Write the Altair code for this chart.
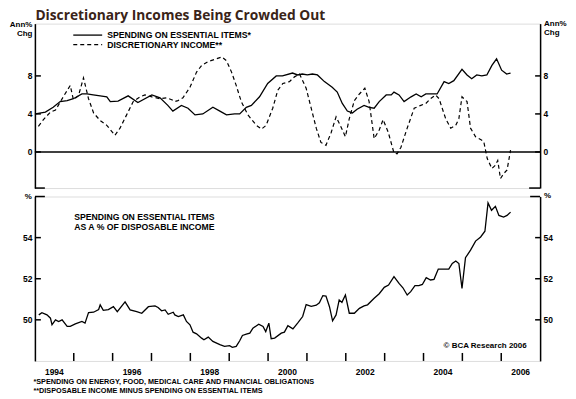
import altair as alt
import pandas as pd

# ---------------- data ----------------
chart_title = "Discretionary Incomes Being Crowded Out"
legend_labels = ["SPENDING ON ESSENTIAL ITEMS*", "DISCRETIONARY INCOME**"]
panel_note = ["SPENDING ON ESSENTIAL ITEMS", "AS A % OF DISPOSABLE INCOME"]
footnotes = ["*SPENDING ON ENERGY, FOOD, MEDICAL CARE AND FINANCIAL OBLIGATIONS",
             "**DISPOSABLE INCOME MINUS SPENDING ON ESSENTIAL ITEMS"]
source_note = "\u00a9 BCA Research 2006"

# Spending on essential items, annual % change (decimal year, value)
spend_t = [
    1994.01, 1994.27, 1994.47, 1994.65, 1994.83, 1994.99, 1995.21, 1995.34, 1995.50, 1995.68,
    1995.85, 1995.94, 1996.14, 1996.40, 1996.65, 1997.01, 1997.22, 1997.42, 1997.55, 1997.77,
    1997.94, 1998.12, 1998.32, 1998.58, 1998.76, 1998.93, 1999.14, 1999.27, 1999.44, 1999.57,
    1999.78, 1999.99, 2000.21, 2000.37, 2000.63, 2000.76, 2000.88, 2001.01, 2001.14, 2001.27,
    2001.45, 2001.65, 2001.78, 2001.91, 2002.04, 2002.17, 2002.29, 2002.47, 2002.60, 2002.73,
    2002.86, 2003.04, 2003.17, 2003.24, 2003.37, 2003.50, 2003.68, 2003.81, 2003.94, 2004.06,
    2004.35, 2004.53, 2004.65, 2004.78, 2004.99, 2005.12, 2005.24, 2005.37, 2005.50, 2005.63,
    2005.76, 2005.88, 2006.01, 2006.14, 2006.24,
]
spend_chg = [
    4.0, 4.2, 4.7, 5.3, 5.4, 5.6, 6.1, 6.1, 6.0, 5.9,
    5.8, 5.3, 5.35, 5.9, 5.2, 6.0, 5.7, 4.9, 4.3, 4.9,
    4.6, 3.9, 4.0, 4.7, 4.3, 3.9, 4.0, 4.0, 4.7, 4.9,
    5.8, 7.2, 8.0, 8.0, 8.3, 8.1, 8.2, 8.1, 8.2, 8.1,
    7.4, 6.8, 6.3, 5.1, 4.3, 4.1, 4.5, 4.9, 4.7, 4.6,
    5.3, 6.0, 6.0, 6.3, 6.0, 5.3, 5.8, 6.1, 5.8, 6.1,
    6.1, 7.4, 7.2, 7.5, 8.7, 8.1, 7.7, 8.1, 8.0, 8.1,
    9.1, 9.8, 8.6, 8.2, 8.3,
]

# Discretionary income, annual % change
disc_t = [
    1994.09, 1994.22, 1994.40, 1994.53, 1994.73, 1994.91, 1994.99, 1995.12, 1995.25, 1995.38,
    1995.51, 1995.68, 1995.85, 1996.06, 1996.19, 1996.36, 1996.53, 1996.71, 1996.83, 1997.01,
    1997.22, 1997.39, 1997.52, 1997.60, 1997.68, 1997.81, 1997.99, 1998.16, 1998.29, 1998.45,
    1998.67, 1998.81, 1998.93, 1999.06, 1999.18, 1999.31, 1999.48, 1999.70, 1999.83, 1999.95,
    2000.12, 2000.25, 2000.38, 2000.55, 2000.68, 2000.81, 2000.98, 2001.11, 2001.24, 2001.36,
    2001.49, 2001.62, 2001.75, 2001.88, 2001.99, 2002.09, 2002.22, 2002.35, 2002.49, 2002.60,
    2002.73, 2002.86, 2002.96, 2003.09, 2003.24, 2003.32, 2003.42, 2003.58, 2003.76, 2003.93,
    2004.06, 2004.18, 2004.31, 2004.40, 2004.57, 2004.70, 2004.83, 2004.91, 2004.99, 2005.12,
    2005.21, 2005.34, 2005.47, 2005.55, 2005.64, 2005.76, 2005.85, 2005.91, 2005.98, 2006.06,
    2006.15, 2006.24,
]
disc_chg = [
    2.7, 3.4, 4.2, 4.4, 5.8, 7.0, 5.5, 5.9, 7.8, 5.6,
    4.1, 3.3, 2.8, 1.75, 2.5, 3.9, 5.3, 5.8, 6.0, 5.8,
    5.6, 5.7, 5.5, 5.3, 5.4, 5.7, 6.8, 8.4, 9.1, 9.5,
    9.8, 10.0, 9.6, 8.4, 7.0, 5.3, 3.9, 2.8, 2.4, 2.8,
    4.6, 6.5, 7.2, 7.4, 7.9, 8.2, 6.7, 4.6, 2.5, 1.0,
    0.7, 2.0, 3.7, 2.6, 1.6, 3.5, 5.4, 6.1, 6.7, 5.3,
    1.4, 2.3, 3.4, 2.1, -0.1, -0.2, 0.5, 2.5, 4.6, 4.9,
    5.1, 5.6, 6.0, 5.6, 3.5, 2.5, 2.8, 3.5, 5.8, 5.3,
    2.5, 1.6, 1.3, 1.1, -0.7, -1.75, -1.4, -0.9, -2.8, -2.3,
    -1.9, 0.2,
]

# Spending on essential items as % of disposable income
share_t = [
    1994.10, 1994.18, 1994.31, 1994.40, 1994.44, 1994.53, 1994.61, 1994.70, 1994.83, 1994.91,
    1995.04, 1995.21, 1995.29, 1995.38, 1995.51, 1995.64, 1995.68, 1995.76, 1995.89, 1996.02,
    1996.12, 1996.32, 1996.45, 1996.62, 1996.75, 1996.92, 1997.09, 1997.17, 1997.26, 1997.35,
    1997.43, 1997.56, 1997.60, 1997.69, 1997.82, 1997.90, 1997.99, 1998.07, 1998.16, 1998.29,
    1998.35, 1998.46, 1998.58, 1998.76, 1998.88, 1999.01, 1999.08, 1999.18, 1999.27, 1999.34,
    1999.44, 1999.53, 1999.61, 1999.76, 1999.87, 1999.94, 2000.02, 2000.08, 2000.17, 2000.34,
    2000.42, 2000.51, 2000.64, 2000.76, 2000.89, 2000.98, 2001.11, 2001.24, 2001.32, 2001.41,
    2001.49, 2001.58, 2001.66, 2001.75, 2001.83, 2001.90, 2001.99, 2002.09, 2002.22, 2002.35,
    2002.47, 2002.56, 2002.73, 2002.86, 2002.99, 2003.10, 2003.24, 2003.37, 2003.47, 2003.58,
    2003.67, 2003.78, 2003.88, 2003.97, 2004.07, 2004.18, 2004.27, 2004.38, 2004.65, 2004.74,
    2004.83, 2004.91, 2004.99, 2005.08, 2005.21, 2005.34, 2005.47, 2005.58, 2005.66, 2005.75,
    2005.85, 2005.94, 2006.06, 2006.15, 2006.24,
]
share_pct = [
    50.24, 50.35, 50.24, 50.08, 49.76, 50.00, 49.92, 50.00, 49.68, 49.68,
    49.80, 49.92, 49.84, 50.35, 50.37, 50.50, 50.73, 50.46, 50.50, 50.64,
    50.40, 50.87, 50.48, 50.40, 50.32, 50.64, 50.68, 50.60, 50.44, 50.48,
    50.27, 50.37, 50.24, 50.16, 50.24, 49.92, 49.76, 49.40, 49.32, 49.11,
    49.03, 49.16, 48.95, 48.79, 48.71, 48.74, 48.66, 48.71, 48.98, 49.24,
    49.30, 49.35, 49.59, 49.79, 49.68, 49.43, 49.84, 49.08, 49.11, 49.35,
    49.40, 49.72, 49.56, 49.84, 50.16, 50.74, 50.66, 50.71, 50.83, 51.18,
    51.16, 50.64, 49.95, 50.24, 50.97, 50.85, 51.21, 50.32, 50.32, 50.56,
    50.68, 50.73, 51.05, 51.27, 51.58, 51.69, 52.10, 51.77, 51.56, 51.21,
    51.37, 51.66, 51.66, 51.72, 52.05, 51.94, 51.97, 52.47, 52.47, 52.74,
    52.86, 52.74, 51.53, 53.02, 53.39, 53.83, 54.03, 54.31, 55.69, 55.33,
    55.52, 55.08, 55.00, 55.08, 55.24,
]

year_ticks = list(range(1995, 2007))
label_years = [1994, 1996, 1998, 2000, 2002, 2004, 2006]
top_ticks = [0, 4, 8]
bottom_ticks = [50, 52, 54]
zero_line = [0]

# ---------------- layout / style ----------------
W = 507
H_TOP = 165
H_BOT = 165
FONT = "Liberation Sans"
TITLE_FONT = "Open Sans"
INK = "black"

x_scale = alt.Scale(domain=[1994, 2007], nice=False, zero=False)
y_top_scale = alt.Scale(domain=[-3.8, 13.5], nice=False, zero=False)
y_bot_scale = alt.Scale(domain=[48, 56], nice=False, zero=False)


def y_axis(orient, values):
    kw = dict(orient=orient, values=values, ticks=False, domain=True,
              domainColor=INK, domainWidth=1.5, labelFont=FONT, labelFontSize=8.5,
              labelFontWeight="bold", labelColor=INK, labelPadding=3,
              grid=False, title=None)
    if orient == "left":
        kw["minExtent"] = 26.5
        kw["maxExtent"] = 26.5
    return alt.Axis(**kw)


def frame_axis(orient):
    return alt.Axis(orient=orient, labels=False, ticks=False, domain=True,
                    domainColor=INK, domainWidth=1.5, grid=False, title=None)


spend_df = pd.DataFrame({"t": spend_t, "v": spend_chg})
disc_df = pd.DataFrame({"t": disc_t, "v": disc_chg})
share_df = pd.DataFrame({"t": share_t, "v": share_pct})
top_tick_df = pd.DataFrame({"v": top_ticks})
bot_tick_df = pd.DataFrame({"v": bottom_ticks})
year_tick_df = pd.DataFrame({"t": year_ticks})
year_label_df = pd.DataFrame({"year": label_years})
zero_df = pd.DataFrame({"v": zero_line})

small = dict(font=FONT, fontSize=8, fontWeight="bold", color=INK)
note_style = dict(font=FONT, fontSize=8.7, fontWeight="bold", color=INK)

# ---------------- top panel ----------------
t_zero = alt.Chart(zero_df).mark_rule(color=INK, strokeWidth=1.5).encode(
    y=alt.Y("v:Q", scale=y_top_scale, axis=None))
t_ticks_l = alt.Chart(top_tick_df).mark_rule(color=INK, strokeWidth=1.5).encode(
    y=alt.Y("v:Q", scale=y_top_scale, axis=None), x=alt.value(0), x2=alt.value(6))
t_ticks_r = alt.Chart(top_tick_df).mark_rule(color=INK, strokeWidth=1.5).encode(
    y=alt.Y("v:Q", scale=y_top_scale, axis=y_axis("right", top_ticks)),
    x=alt.value(W - 5), x2=alt.value(W))
t_cap_l = alt.Chart(zero_df).mark_rule(color=INK, strokeWidth=1.5).encode(
    x=alt.value(0), x2=alt.value(10), y=alt.value(H_TOP))
t_cap_r = alt.Chart(zero_df).mark_rule(color=INK, strokeWidth=1.5).encode(
    x=alt.value(W - 11), x2=alt.value(W), y=alt.value(H_TOP))
t_solid = alt.Chart(spend_df).mark_line(color=INK, strokeWidth=1.3).encode(
    x=alt.X("t:Q", scale=x_scale, axis=frame_axis("top")),
    y=alt.Y("v:Q", scale=y_top_scale, axis=y_axis("left", top_ticks)))
t_dash = alt.Chart(disc_df).mark_line(color=INK, strokeWidth=1.2, strokeDash=[4, 3]).encode(
    x=alt.X("t:Q", scale=x_scale, axis=None),
    y=alt.Y("v:Q", scale=y_top_scale, axis=None))
leg_solid = alt.Chart(zero_df).mark_rule(color=INK, strokeWidth=1.3).encode(
    x=alt.value(38.5), x2=alt.value(67.5), y=alt.value(11.5))
leg_dash = alt.Chart(zero_df).mark_rule(color=INK, strokeWidth=1.2, strokeDash=[4, 3]).encode(
    x=alt.value(38.5), x2=alt.value(67.5), y=alt.value(21))
leg_text1 = alt.Chart(zero_df).mark_text(align="left", baseline="middle", **note_style).encode(
    x=alt.value(72.5), y=alt.value(11.5), text=alt.value(legend_labels[0]))
leg_text2 = alt.Chart(zero_df).mark_text(align="left", baseline="middle", **note_style).encode(
    x=alt.value(72.5), y=alt.value(21), text=alt.value(legend_labels[1]))
unit_l = alt.Chart(zero_df).mark_text(align="right", baseline="top", lineHeight=9, **small).encode(
    x=alt.value(-2.5), y=alt.value(-2.5), text=alt.value(["Ann%", "Chg"]))
unit_r = alt.Chart(zero_df).mark_text(align="left", baseline="top", lineHeight=9, **small).encode(
    x=alt.value(W + 4), y=alt.value(-4), text=alt.value(["Ann%", "Chg"]))
title = alt.Chart(zero_df).mark_text(align="left", baseline="alphabetic", font=TITLE_FONT,
                                     fontSize=13.8, fontWeight="bold", color="#3a2418").encode(
    x=alt.value(0.5), y=alt.value(-3.2), text=alt.value(chart_title))

top = alt.layer(
    t_zero, t_ticks_l, t_ticks_r, t_cap_l, t_cap_r, t_solid, t_dash,
    leg_solid, leg_dash, leg_text1, leg_text2, unit_l, unit_r, title,
).resolve_scale(y="shared").resolve_axis(y="independent").properties(width=W, height=H_TOP)

# ---------------- bottom panel ----------------
b_line = alt.Chart(share_df).mark_line(color=INK, strokeWidth=1.3).encode(
    x=alt.X("t:Q", scale=x_scale, axis=frame_axis("bottom")),
    y=alt.Y("v:Q", scale=y_bot_scale, axis=y_axis("left", bottom_ticks)))
b_ticks_l = alt.Chart(bot_tick_df).mark_rule(color=INK, strokeWidth=1.5).encode(
    y=alt.Y("v:Q", scale=y_bot_scale, axis=None), x=alt.value(0), x2=alt.value(6))
b_ticks_r = alt.Chart(bot_tick_df).mark_rule(color=INK, strokeWidth=1.5).encode(
    y=alt.Y("v:Q", scale=y_bot_scale, axis=y_axis("right", bottom_ticks)),
    x=alt.value(W - 5), x2=alt.value(W))
b_xticks = alt.Chart(year_tick_df).mark_rule(color=INK, strokeWidth=1.5).encode(
    x=alt.X("t:Q", scale=x_scale, axis=None), y=alt.value(H_BOT - 8), y2=alt.value(H_BOT))
b_xlabels = alt.Chart(year_label_df).transform_calculate(
    mid="datum.year + 0.5", lab="'' + datum.year"
).mark_text(align="center", baseline="middle", font=FONT, fontSize=8.5, fontWeight="bold",
            color=INK).encode(
    x=alt.X("mid:Q", scale=x_scale, axis=None), y=alt.value(H_BOT + 11), text="lab:N")
b_cap_l = alt.Chart(zero_df).mark_rule(color=INK, strokeWidth=1.5).encode(
    x=alt.value(0), x2=alt.value(10), y=alt.value(0))
b_cap_r = alt.Chart(zero_df).mark_rule(color=INK, strokeWidth=1.5).encode(
    x=alt.value(W - 10), x2=alt.value(W), y=alt.value(0))
pct_l = alt.Chart(zero_df).mark_text(align="right", baseline="middle", **small).encode(
    x=alt.value(-3), y=alt.value(0), text=alt.value("%"))
pct_r = alt.Chart(zero_df).mark_text(align="left", baseline="middle", **small).encode(
    x=alt.value(W + 4), y=alt.value(-1), text=alt.value("%"))
note = alt.Chart(zero_df).mark_text(align="left", baseline="top", lineHeight=10, **note_style).encode(
    x=alt.value(39.5), y=alt.value(16.5), text=alt.value(panel_note))
src = alt.Chart(zero_df).mark_text(align="right", baseline="middle", **small).encode(
    x=alt.value(493.5), y=alt.value(150), text=alt.value(source_note))
foot = alt.Chart(zero_df).mark_text(align="left", baseline="top", lineHeight=9,
                                    font=FONT, fontSize=7.3, fontWeight="bold", color=INK).encode(
    x=alt.value(-1.5), y=alt.value(182), text=alt.value(footnotes))

bottom = alt.layer(
    b_xticks, b_ticks_l, b_ticks_r, b_cap_l, b_cap_r, b_line, b_xlabels,
    pct_l, pct_r, note, src, foot,
).resolve_scale(y="shared").resolve_axis(y="independent").properties(width=W, height=H_BOT)

chart = alt.vconcat(top, bottom, spacing=0.5).properties(
    padding={"left": 0, "top": 0, "right": 0, "bottom": 0}
).configure_view(stroke=None).configure(background="white")

chart.save("out.html", embed_options={"renderer": "svg", "actions": False})
